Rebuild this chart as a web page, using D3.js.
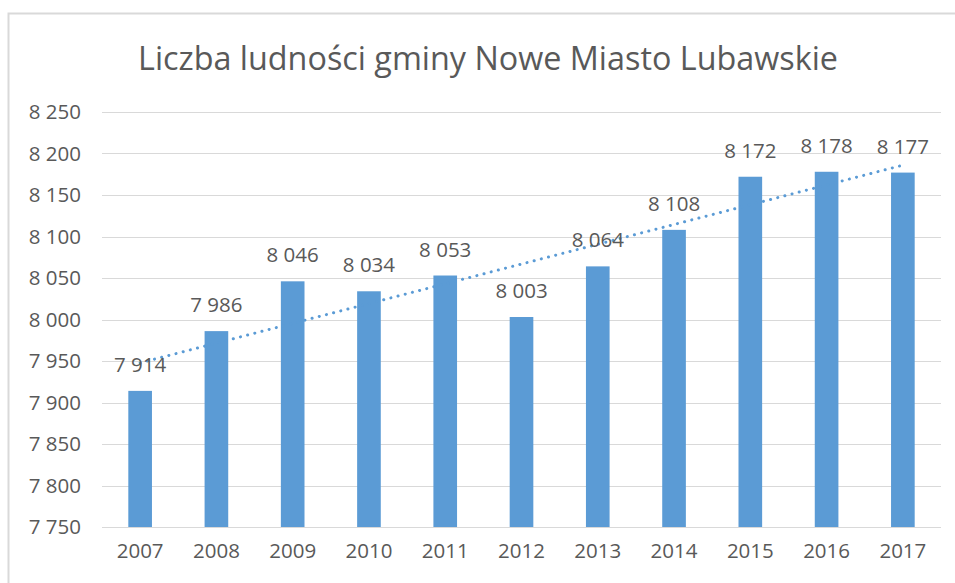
<!DOCTYPE html>
<html>
<head>
<meta charset="utf-8">
<script src="https://cdn.jsdelivr.net/npm/d3@7"></script>
<style>
  body { margin: 0; background: #fff; }
  text { font-family: "Open Sans", sans-serif; fill: #595959; }
</style>
</head>
<body>
<div id="chart"></div>
<script>
// data
var years = ["2007", "2008", "2009", "2010", "2011", "2012", "2013", "2014", "2015", "2016", "2017"];
var population = [7914, 7986, 8046, 8034, 8053, 8003, 8064, 8108, 8172, 8178, 8177];
var yTicks = [7750, 7800, 7850, 7900, 7950, 8000, 8050, 8100, 8150, 8200, 8250];
var title = "Liczba ludności gminy Nowe Miasto Lubawskie";

var W = 955, H = 583;
var margin = {top: 112, right: 14, bottom: 56, left: 102},
  width = W - margin.left - margin.right,
  height = H - margin.top - margin.bottom;

var labelSize = "20.5px";

var svg = d3.select("#chart")
  .append("svg")
    .attr("width", W)
    .attr("height", H);

// chart area border (bottom and right cut off in the picture)
svg.append("rect")
  .attr("x", 8.5).attr("y", 13.5)
  .attr("width", W + 10).attr("height", H + 10)
  .style("fill", "none")
  .style("stroke", "#D9D9D9")
  .style("stroke-width", 2);

var g = svg.append("g")
  .attr("transform", "translate(" + margin.left + "," + margin.top + ")");

var x = d3.scaleBand()
  .domain(years)
  .range([0, width])
  .paddingInner(0.69)
  .paddingOuter(0.345);

var y = d3.scaleLinear()
  .domain([7750, 8250])
  .range([height, 0]);

var fmt = function(v) { return d3.format(",")(v).replace(/,/g, " "); };

// gridlines
g.append("g")
  .selectAll("line")
  .data(yTicks)
  .enter().append("line")
    .attr("x1", 0).attr("x2", width)
    .attr("y1", function(d) { return Math.round(y(d)) + 0.5; })
    .attr("y2", function(d) { return Math.round(y(d)) + 0.5; })
    .style("stroke", "#D9D9D9")
    .style("stroke-width", 1);

// y axis labels
var yAxis = g.append("g")
  .call(d3.axisLeft(y).tickValues(yTicks).tickFormat(fmt).tickSize(0).tickPadding(21));
yAxis.select(".domain").remove();
yAxis.selectAll("text")
  .style("font-size", labelSize)
  .style("font-family", "'Open Sans', sans-serif")
  .style("fill", "#595959");

// x axis labels
var xAxis = g.append("g")
  .attr("transform", "translate(0," + height + ")")
  .call(d3.axisBottom(x).tickSize(0).tickPadding(16));
xAxis.select(".domain").remove();
xAxis.selectAll("text")
  .style("font-size", labelSize)
  .style("font-family", "'Open Sans', sans-serif")
  .style("fill", "#595959");

// bars
g.selectAll(".bar")
  .data(population)
  .enter().append("rect")
    .attr("class", "bar")
    .attr("x", function(d, i) { return x(years[i]); })
    .attr("y", function(d) { return y(d); })
    .attr("width", x.bandwidth())
    .attr("height", function(d) { return height - y(d); })
    .style("fill", "#5B9BD5");

// linear trendline (least squares, like Excel)
var n = population.length;
var mx = d3.mean(d3.range(n)), my = d3.mean(population);
var sxy = d3.sum(population, function(v, i) { return (i - mx) * (v - my); });
var sxx = d3.sum(d3.range(n), function(i) { return (i - mx) * (i - mx); });
var slope = sxy / sxx, icpt = my - slope * mx;
var cx = function(i) { return x(years[i]) + x.bandwidth() / 2; };

g.append("line")
  .attr("x1", cx(0)).attr("y1", y(icpt))
  .attr("x2", cx(n - 1)).attr("y2", y(icpt + slope * (n - 1)))
  .style("stroke", "#5B9BD5")
  .style("stroke-width", 3)
  .style("stroke-linecap", "round")
  .style("stroke-dasharray", "0.1 7.3");

// data labels
g.selectAll(".lbl")
  .data(population)
  .enter().append("text")
    .attr("class", "lbl")
    .attr("x", function(d, i) { return cx(i); })
    .attr("y", function(d) { return y(d) - 19; })
    .attr("text-anchor", "middle")
    .style("font-size", labelSize)
    .text(fmt);

// title, sized to the width seen in the picture
var t = svg.append("text")
  .attr("x", 488)
  .attr("y", 70)
  .attr("text-anchor", "middle")
  .style("font-size", "28px")
  .text(title);
var tw = t.node().getComputedTextLength();
t.style("font-size", (28 * 700 / tw).toFixed(2) + "px");
</script>
</body>
</html>
